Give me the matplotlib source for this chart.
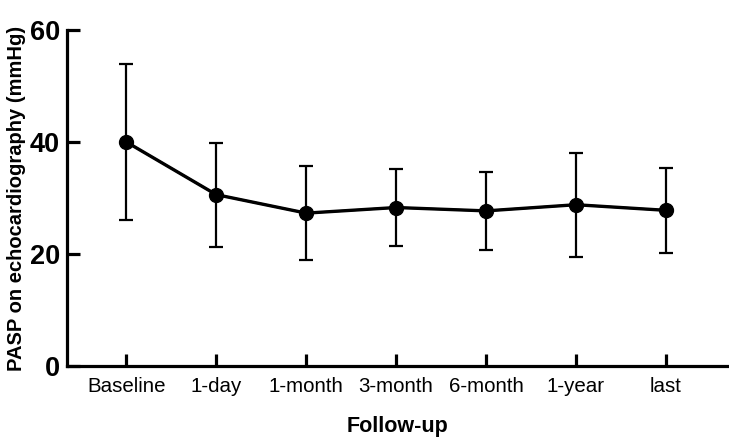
import numpy as np
import matplotlib.pyplot as plt

plt.rcParams['font.family'] = ['Liberation Sans', 'DejaVu Sans']

categories = ['Baseline', '1-day', '1-month', '3-month', '6-month', '1-year', 'last']
mean_pasp = [40.0, 30.6, 27.3, 28.3, 27.7, 28.8, 27.8]
upper = [54.0, 39.8, 35.7, 35.1, 34.6, 38.0, 35.4]
lower = [26.1, 21.3, 19.0, 21.4, 20.7, 19.5, 20.1]

x = np.arange(len(categories))
mean = np.array(mean_pasp)
yerr = [mean - np.array(lower), np.array(upper) - mean]

fig = plt.figure(figsize=(7.29, 4.41), dpi=100)
ax = fig.add_axes([67 / 729, 75 / 441, 660 / 729, 336 / 441])

ax.errorbar(x, mean, yerr=yerr, color='black', ecolor='black', elinewidth=1.6,
            capsize=4.8, capthick=1.6, zorder=2)
ax.plot(x, mean, color='black', linewidth=2.4, marker='o', markersize=10, zorder=3)

ax.set_xlim(-0.66, 6.68)
ax.set_ylim(0, 60)
ax.set_yticks([0, 20, 40, 60])
ax.set_xticks(x)
ax.set_xticklabels(categories, fontsize=14.8)
for lbl in ax.get_yticklabels():
    lbl.set_fontsize(19.5)
    lbl.set_fontweight('bold')

ax.spines['top'].set_visible(False)
ax.spines['right'].set_visible(False)
ax.spines['left'].set_linewidth(2.3)
ax.spines['bottom'].set_linewidth(2.3)
ax.tick_params(axis='both', direction='in', length=9, width=2.3)
ax.tick_params(axis='x', pad=8)
ax.tick_params(axis='y', pad=5)

ax.set_ylabel('PASP on echocardiography (mmHg)', fontsize=14.5, fontweight='bold', labelpad=3)
ax.set_xlabel('Follow-up', fontsize=15.5, fontweight='bold', labelpad=14)

fig.savefig('out.png', dpi=100)
